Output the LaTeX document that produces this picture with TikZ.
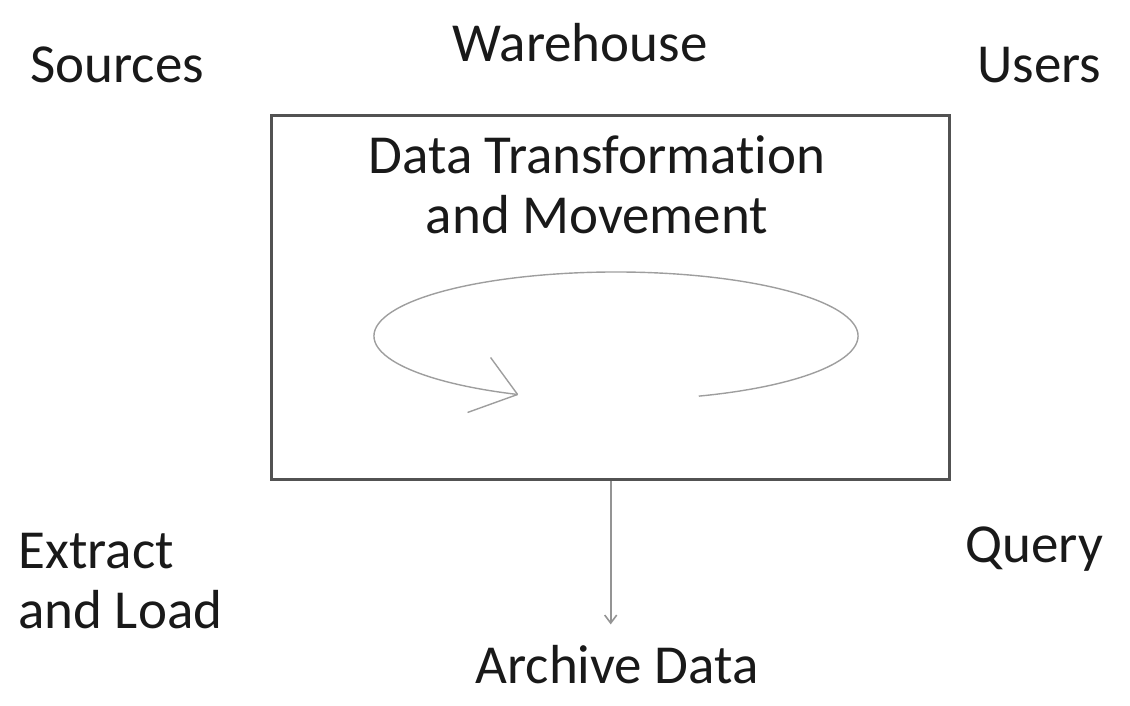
\documentclass[tikz,border=0pt]{standalone}
\usepackage{fontspec}
\setmainfont{Carlito}[Ligatures=NoCommon]
\usetikzlibrary{arrows.meta}
\newcommand{\lbl}{\fontsize{27.5pt}{30pt}\selectfont}

\begin{document}
\begin{tikzpicture}[x=0.5pt,y=-0.5pt]
  \tikzstyle{caption}=[inner sep=0pt, font=\lbl, text=black!90]
  \tikzstyle{wall}=[draw=black!68, line width=1.7pt, inner sep=0pt]
  \tikzstyle{cycle}=[draw=black!38, line width=0.7pt]
  \tikzstyle{flow}=[draw=black!42, line width=0.8pt, -{Straight Barb[length=4pt,width=6pt]}]
  \useasboundingbox (0,0) rectangle (1130,706);
  % labels round the warehouse
  \node[caption, anchor=base west] (sources) at (30,83) {Sources};
  \node[caption, anchor=base] (warehouse) at (580,62) {Warehouse};
  \node[caption, anchor=base west] (users) at (977,83) {Users};
  \node[caption, anchor=base west, align=left] (extract) at (18,628) {Extract\\and Load};
  \node[caption, anchor=base west] (query) at (965,562) {Query};
  \node[caption, anchor=base] (archive) at (617,683) {Archive Data};
  % the warehouse box
  \node[wall, minimum width=339pt, minimum height=182pt, anchor=north west] (box) at (270,114) {};
  \node[caption, anchor=base, align=center] (move) at (597,233) {Data Transformation\\and Movement};
  % the loop
  \coordinate (loop) at (616,336);
  \draw[cycle] (loop) ++(70:242 and 64) arc[start angle=70, end angle=-246, x radius=242, y radius=64] coordinate (tip);
  \draw[cycle] (tip) -- ++(-27,-37) (tip) -- ++(-50,18);
  \draw[flow] (box.south) -- ([yshift=10pt]archive.north -| box.south);
\end{tikzpicture}
\end{document}
